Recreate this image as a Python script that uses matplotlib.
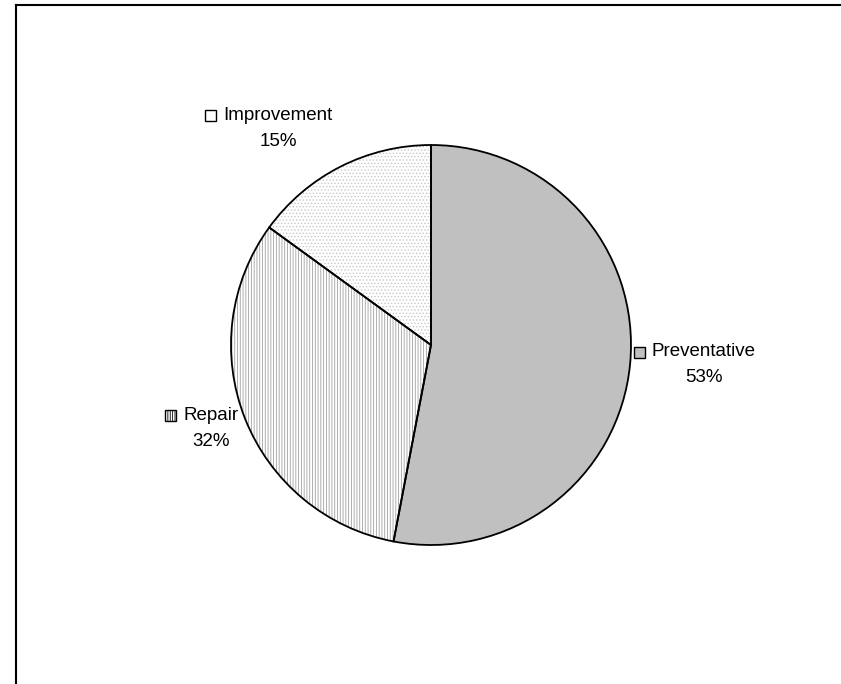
import matplotlib.pyplot as plt
from matplotlib.patches import Rectangle

plt.rcParams['font.family'] = ['Liberation Sans', 'DejaVu Sans']
plt.rcParams['hatch.linewidth'] = 0.6

labels = ['Preventative', 'Repair', 'Improvement']
shares = [53, 32, 15]
fills = ['#c0c0c0', 'white', 'white']
hatches = [None, '||||||', '.....']
hatch_cols = ['#c0c0c0', '#a0a0a0', '#c8c8c8']

# label block centres (x, y of name line) in pixel space, y from top
label_pos = [(704, 352), (211, 415), (278, 115)]

W, H = 841, 684
fig = plt.figure(figsize=(W / 100, H / 100), dpi=100)
ax = fig.add_axes([0, 0, 1, 1])

cx, cy, r = 431, H - 345, 200

# hatch layer
wedges, _ = ax.pie(shares, startangle=90, counterclock=False, center=(cx, cy),
                   radius=r, frame=True, colors=fills,
                   wedgeprops=dict(linewidth=0))
for w, h, hc in zip(wedges, hatches, hatch_cols):
    if h:
        w.set_hatch(h)
        w.set_edgecolor(hc)
        w.set_linewidth(0)

# outline layer
ax.pie(shares, startangle=90, counterclock=False, center=(cx, cy), radius=r,
       frame=True, colors=['none'] * 3,
       wedgeprops=dict(linewidth=1.3, edgecolor='black', fill=False))

ax.set_xlim(0, W)
ax.set_ylim(0, H)
ax.axis('off')

# chart area border (clipped at right and bottom)
ax.plot([16, 16], [0, H - 5], color='black', lw=1.5)
ax.plot([16, W], [H - 5, H - 5], color='black', lw=1.5)

for lab, val, (x, y), fc, h in zip(labels, shares, label_pos, fills, hatches):
    t1 = ax.text(x, H - y, lab, ha='center', va='center', fontsize=13.5)
    ax.text(x, H - y - 26, f'{val}%', ha='center', va='center', fontsize=13.5)
    fig.canvas.draw()
    bb = t1.get_window_extent()
    sq = 11
    ax.add_patch(Rectangle((bb.x0 - sq - 7, H - y - sq / 2), sq, sq,
                           facecolor=fc, edgecolor='black', lw=1,
                           hatch=('|||||||' if h and '|' in h else None)))

fig.savefig('out.png', dpi=100)
